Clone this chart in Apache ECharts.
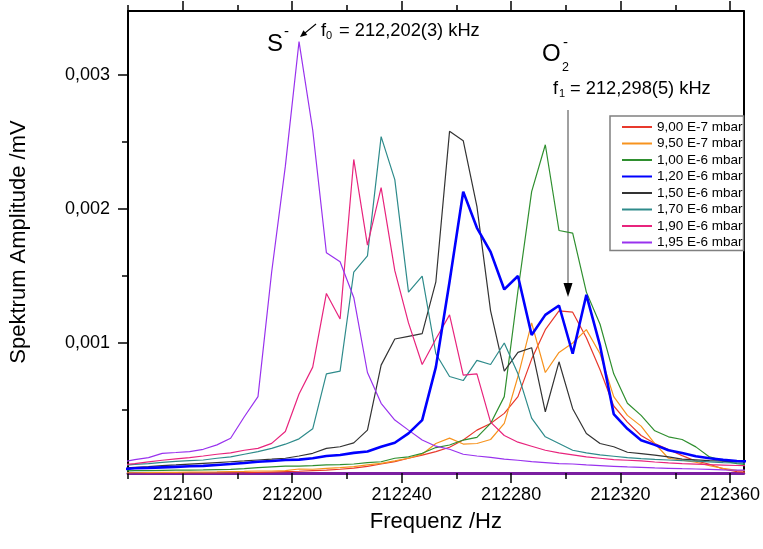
<!DOCTYPE html>
<html><head><meta charset="utf-8">
<script src="https://cdn.jsdelivr.net/npm/echarts@6/dist/echarts.min.js"></script>
<style>html,body{margin:0;padding:0;background:#fff}#c{width:763px;height:549px}</style>
</head><body><div id="c"></div>
<script>
// Frequency sample points (Hz)
const freq = [212137.5,212142.5,212147.5,212152.5,212157.5,212162.5,212167.5,212172.5,212177.5,212182.5,
212187.5,212192.5,212197.5,212202.5,212207.5,212212.5,212217.5,212222.5,212227.5,212232.5,
212237.5,212242.5,212247.5,212252.5,212257.5,212262.5,212267.5,212272.5,212277.5,212282.5,
212287.5,212292.5,212297.5,212302.5,212307.5,212312.5,212317.5,212322.5,212327.5,212332.5,
212337.5,212342.5,212347.5,212352.5,212357.5,212362.5,212367.5];

// Amplitudes in units of 10^-3 mV
const amp900 = [0.02,0.02,0.021,0.022,0.023,0.024,0.025,0.027,0.029,0.031,0.034,0.037,0.04,0.043,0.047,0.051,0.058,0.066,0.08,0.097,0.115,0.14,0.164,0.19,0.222,0.276,0.35,0.40,0.475,0.6,0.88,1.1,1.24,1.23,1.04,0.8,0.53,0.41,0.31,0.25,0.205,0.16,0.12,0.095,0.06,0.04,0.035];
const amp950 = [0.03,0.032,0.033,0.034,0.035,0.036,0.037,0.038,0.04,0.042,0.045,0.045,0.048,0.06,0.058,0.064,0.07,0.077,0.09,0.102,0.12,0.14,0.17,0.25,0.29,0.246,0.25,0.28,0.40,0.75,1.15,0.78,0.93,1.0,1.1,0.92,0.6,0.46,0.38,0.25,0.14,0.125,0.11,0.085,0.065,0.05,0.045];
const amp100 = [0.045,0.047,0.048,0.05,0.051,0.052,0.053,0.055,0.057,0.063,0.07,0.076,0.082,0.082,0.085,0.09,0.093,0.097,0.107,0.114,0.14,0.151,0.177,0.22,0.239,0.276,0.296,0.4,0.6,1.39,2.13,2.48,1.84,1.82,1.38,1.14,0.77,0.55,0.46,0.345,0.3,0.28,0.225,0.15,0.12,0.1,0.09];
const amp120 = [0.058,0.065,0.068,0.072,0.076,0.08,0.083,0.09,0.097,0.105,0.114,0.12,0.127,0.13,0.14,0.157,0.164,0.18,0.19,0.226,0.256,0.326,0.425,0.82,1.457,2.13,1.86,1.68,1.40,1.5,1.06,1.21,1.28,0.92,1.36,0.98,0.47,0.36,0.275,0.24,0.2,0.18,0.155,0.14,0.128,0.12,0.117];
const amp150 = [0.065,0.072,0.078,0.085,0.09,0.096,0.102,0.108,0.114,0.12,0.127,0.133,0.14,0.157,0.177,0.214,0.226,0.255,0.35,0.835,1.03,1.05,1.07,1.457,2.58,2.51,2.02,1.24,0.79,0.93,0.965,0.487,0.86,0.51,0.325,0.25,0.226,0.185,0.175,0.164,0.15,0.134,0.128,0.122,0.118,0.114,0.112];
const amp170 = [0.085,0.095,0.1,0.11,0.117,0.122,0.127,0.14,0.15,0.17,0.19,0.214,0.245,0.285,0.36,0.77,0.79,1.53,1.65,2.54,2.22,1.38,1.50,0.92,0.75,0.72,0.87,0.84,1.0,0.77,0.44,0.30,0.25,0.2,0.18,0.165,0.155,0.145,0.138,0.132,0.127,0.122,0.118,0.113,0.108,0.105,0.103];
const amp190 = [0.09,0.1,0.113,0.125,0.135,0.145,0.157,0.17,0.18,0.2,0.214,0.251,0.34,0.62,0.82,1.37,1.18,2.37,1.73,2.16,1.54,1.15,0.84,1.03,1.21,0.76,0.77,0.41,0.31,0.26,0.23,0.2,0.18,0.165,0.15,0.14,0.13,0.125,0.12,0.112,0.105,0.1,0.096,0.092,0.089,0.086,0.085];
const amp195 = [0.11,0.13,0.145,0.177,0.183,0.19,0.207,0.24,0.289,0.45,0.60,1.53,2.32,3.25,2.59,1.674,1.607,1.34,0.78,0.55,0.425,0.35,0.276,0.23,0.207,0.17,0.157,0.146,0.134,0.125,0.115,0.108,0.1,0.097,0.09,0.085,0.08,0.075,0.072,0.068,0.065,0.062,0.06,0.057,0.054,0.052,0.05];

const seriesNames = ['9,00 E-7 mbar','9,50 E-7 mbar','1,00 E-6 mbar','1,20 E-6 mbar','1,50 E-6 mbar','1,70 E-6 mbar','1,90 E-6 mbar','1,95 E-6 mbar'];
const seriesAmps = [amp900, amp950, amp100, amp120, amp150, amp170, amp190, amp195];
const seriesColors = ['#e8392c','#f7931e','#2f8f2f','#0000ff','#333333','#2e8b8b','#e8247d','#9932ee'];
const seriesWidths = [1.2,1.2,1.2,2.6,1.2,1.2,1.2,1.2];

const xMajorTicks = [212160,212200,212240,212280,212320,212360];
const xMinorTicks = [212140,212180,212220,212260,212300,212340];
const xTickLabels = ['212160','212200','212240','212280','212320','212360'];
const yMajorTicks = [0.001,0.002,0.003];
const yMinorTicks = [0.0005,0.0015,0.0025];
const yTickLabels = ['0,001','0,002','0,003'];

const FONT = '"Liberation Sans", Arial, sans-serif';
const X_MIN = 212140, X_MAX = 212365, Y_MIN = 0.00003, Y_MAX = 0.003478;

const chart = echarts.init(document.getElementById('c'), null, {renderer:'canvas'});

function xAxisDef(pos, ticks, len, withLabels, lineColor, lineWidth, showLine){
  const a = {
    type:'value', position:pos, min:X_MIN, max:X_MAX,
    axisLine:{show:showLine, onZero:false, lineStyle:{color:lineColor, width:lineWidth}},
    axisTick:{show:true, customValues:ticks, length:len, inside:false, lineStyle:{color:'#000', width:1.5}},
    axisLabel:{show:false}, splitLine:{show:false}
  };
  if (withLabels){
    a.axisLabel = {show:true, customValues:xMajorTicks, color:'#000', fontSize:18, fontFamily:FONT, margin:13,
      formatter:(v)=>{const i = xMajorTicks.indexOf(Math.round(v)); return i>=0 ? xTickLabels[i] : '';}};
    a.name = 'Frequenz /Hz'; a.nameLocation = 'middle'; a.nameGap = 38;
    a.nameTextStyle = {fontSize:22, fontFamily:FONT, color:'#000'};
  }
  return a;
}
function yAxisDef(pos, ticks, len, withLabels, showLine){
  const a = {
    type:'value', position:pos, min:Y_MIN, max:Y_MAX,
    axisLine:{show:showLine, onZero:false, lineStyle:{color:'#000', width:2}},
    axisTick:{show:ticks.length>0, customValues:ticks, length:len, lineStyle:{color:'#000', width:1.5}},
    axisLabel:{show:false}, splitLine:{show:false}
  };
  if (withLabels){
    a.axisLabel = {show:true, customValues:yMajorTicks, color:'#000', fontSize:18, fontFamily:FONT, margin:18,
      formatter:(v)=>{let best=0; yMajorTicks.forEach((t,i)=>{if(Math.abs(t-v)<Math.abs(yMajorTicks[best]-v)) best=i;}); return yTickLabels[best];}};
    a.name = 'Spektrum Amplitude /mV'; a.nameLocation = 'middle'; a.nameGap = 98;
    a.nameTextStyle = {fontSize:22, fontFamily:FONT, color:'#000'};
  }
  return a;
}

const series = seriesNames.map((n,i)=>({
  name:n, type:'line', xAxisIndex:0, yAxisIndex:0,
  data: freq.map((f,j)=>[f, seriesAmps[i][j]*1e-3]),
  symbol:'none', showSymbol:false, clip:true,
  lineStyle:{color:seriesColors[i], width:seriesWidths[i]},
  itemStyle:{color:seriesColors[i]},
  z: i===3 ? 5 : 2, animation:false
}));

function txt(x, y, s, fs){
  return {type:'text', x:x, y:y, style:{text:s, fontSize:fs, fontFamily:FONT, fill:'#000', verticalAlign:'top'}};
}

const graphic = [
  // S- annotation
  txt(267, 32.5, 'S', 24),
  txt(284, 24.5, '-', 15),
  {type:'line', shape:{x1:316, y1:24, x2:303, y2:34.6}, style:{stroke:'#000', lineWidth:1.2}},
  {type:'polygon', shape:{points:[[300,37],[307.3,34.9],[303.5,30.3]]}, style:{fill:'#000'}},
  txt(321, 22, 'f', 18.3),
  txt(326, 30, '0', 11),
  txt(339, 22, '= 212,202(3) kHz', 18.3),
  // O2- annotation
  txt(542, 42.5, 'O', 24),
  txt(562, 61.5, '2', 12.5),
  txt(563, 35, '-', 15),
  txt(553, 80, 'f', 18.3),
  txt(559, 88, '1', 11),
  txt(570, 80, '= 212,298(5) kHz', 18.3),
  {type:'line', shape:{x1:568, y1:110, x2:568, y2:284}, style:{stroke:'#808080', lineWidth:1.5}},
  {type:'polygon', shape:{points:[[563.5,283],[572.5,283],[568,297]]}, style:{fill:'#000'}}
];

chart.setOption({
  animation:false,
  backgroundColor:'#fff',
  grid:{left:125, right:16, top:11, bottom:76, containLabel:false},
  xAxis:[
    xAxisDef('bottom', xMajorTicks, 10, true, '#7a1fa0', 3, true),
    xAxisDef('bottom', xMinorTicks, 6, false, '#000', 2, false),
    xAxisDef('top', xMajorTicks, 10, false, '#000', 2, true),
    xAxisDef('top', xMinorTicks, 6, false, '#000', 2, false)
  ],
  yAxis:[
    yAxisDef('left', yMajorTicks, 10, true, true),
    yAxisDef('left', yMinorTicks, 6, false, false),
    yAxisDef('right', [], 0, false, true)
  ],
  legend:{show:true, orient:'vertical', left:610, top:116, padding:[4,1,1,11],
    itemWidth:30, itemHeight:14, itemGap:2.5, borderColor:'#808080', borderWidth:1.5,
    itemStyle:{opacity:0},
    textStyle:{fontSize:13.5, fontFamily:FONT, color:'#000'}, data:seriesNames},
  series: series,
  graphic: graphic
});
</script></body></html>
